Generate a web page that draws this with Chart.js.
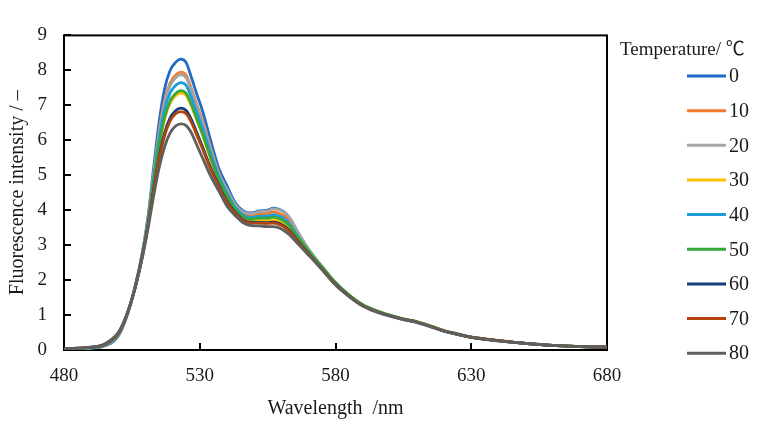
<!DOCTYPE html>
<html>
<head>
<meta charset="utf-8">
<script src="https://cdn.jsdelivr.net/npm/chart.js@4.4.1/dist/chart.umd.min.js"></script>
<style>
  html, body { margin: 0; padding: 0; background: #fff; }
  #chart { display: block; }
</style>
</head>
<body>
<canvas id="chart" width="758" height="421"></canvas>
<script>
// wavelength (nm)
const wavelength = [480, 485, 490, 494, 497, 500, 503, 506, 509, 511, 513, 515, 517, 519, 521, 523, 525, 527, 529, 531, 534, 537, 540, 543, 546, 549, 552, 555, 557, 559, 561, 563, 566, 570, 575, 580, 585, 590, 595, 600, 605, 610, 613, 616, 620, 625, 630, 640, 650, 660, 670, 680];

const temps = ["0", "10", "20", "30", "40", "50", "60", "70", "80"];
const colors = ["#1F6BC8", "#F47A2E", "#A5A5A5", "#FFC000", "#1E9CDB", "#36A93A", "#123D7A", "#B3440D", "#5F5F5F"];

const t0  = [0.02, 0.03, 0.05, 0.09, 0.18, 0.4, 0.93, 1.75, 2.85, 3.85, 5.2, 6.5, 7.45, 7.98, 8.22, 8.32, 8.22, 7.78, 7.3, 6.85, 6.0, 5.2, 4.7, 4.22, 3.98, 3.92, 3.98, 4.0, 4.06, 4.03, 3.95, 3.78, 3.38, 2.88, 2.38, 1.92, 1.56, 1.29, 1.12, 0.99, 0.88, 0.79, 0.72, 0.65, 0.55, 0.46, 0.37, 0.27, 0.19, 0.13, 0.1, 0.08];
const t10 = [0.02, 0.04, 0.06, 0.1, 0.2, 0.43, 0.95, 1.74, 2.82, 3.78, 5.04, 6.24, 7.12, 7.62, 7.86, 7.95, 7.86, 7.46, 7.01, 6.58, 5.8, 5.07, 4.58, 4.15, 3.91, 3.85, 3.89, 3.91, 3.95, 3.92, 3.84, 3.68, 3.31, 2.85, 2.37, 1.91, 1.55, 1.28, 1.11, 0.98, 0.88, 0.8, 0.73, 0.65, 0.54, 0.45, 0.37, 0.27, 0.19, 0.13, 0.1, 0.08];
const t20 = [0.02, 0.04, 0.06, 0.1, 0.21, 0.44, 0.96, 1.75, 2.81, 3.77, 5.01, 6.19, 7.05, 7.55, 7.78, 7.88, 7.79, 7.4, 6.95, 6.53, 5.76, 5.05, 4.6, 4.17, 3.95, 3.9, 3.96, 3.98, 4.04, 4.02, 3.95, 3.8, 3.4, 2.9, 2.4, 1.93, 1.56, 1.29, 1.12, 0.99, 0.89, 0.8, 0.74, 0.66, 0.55, 0.46, 0.37, 0.27, 0.19, 0.13, 0.1, 0.08];
const t30 = [0.02, 0.04, 0.07, 0.12, 0.24, 0.46, 0.97, 1.73, 2.77, 3.67, 4.78, 5.82, 6.59, 7.05, 7.27, 7.35, 7.28, 6.96, 6.55, 6.15, 5.47, 4.86, 4.4, 4.0, 3.76, 3.69, 3.7, 3.7, 3.72, 3.69, 3.61, 3.47, 3.17, 2.78, 2.33, 1.89, 1.54, 1.27, 1.11, 0.98, 0.88, 0.8, 0.73, 0.65, 0.55, 0.45, 0.37, 0.27, 0.19, 0.13, 0.1, 0.08];
const t40 = [0.02, 0.04, 0.06, 0.11, 0.22, 0.45, 0.96, 1.74, 2.8, 3.72, 4.91, 6.03, 6.86, 7.34, 7.56, 7.65, 7.57, 7.21, 6.78, 6.36, 5.63, 4.97, 4.49, 4.09, 3.86, 3.79, 3.83, 3.83, 3.87, 3.84, 3.76, 3.61, 3.26, 2.82, 2.35, 1.9, 1.55, 1.27, 1.1, 0.98, 0.87, 0.79, 0.72, 0.64, 0.54, 0.45, 0.36, 0.26, 0.19, 0.13, 0.1, 0.08];
const t50 = [0.02, 0.04, 0.07, 0.12, 0.23, 0.46, 0.97, 1.74, 2.78, 3.68, 4.81, 5.86, 6.64, 7.11, 7.33, 7.42, 7.34, 7.01, 6.59, 6.19, 5.5, 4.88, 4.42, 4.04, 3.81, 3.74, 3.77, 3.77, 3.8, 3.77, 3.69, 3.55, 3.25, 2.84, 2.38, 1.93, 1.58, 1.3, 1.13, 1.0, 0.89, 0.81, 0.74, 0.66, 0.55, 0.46, 0.37, 0.27, 0.19, 0.13, 0.1, 0.08];
const t60 = [0.03, 0.05, 0.08, 0.13, 0.26, 0.48, 0.98, 1.73, 2.74, 3.58, 4.59, 5.51, 6.2, 6.63, 6.84, 6.92, 6.85, 6.58, 6.2, 5.82, 5.22, 4.71, 4.26, 3.94, 3.72, 3.65, 3.65, 3.64, 3.66, 3.63, 3.55, 3.42, 3.13, 2.76, 2.32, 1.88, 1.54, 1.27, 1.1, 0.98, 0.88, 0.8, 0.73, 0.65, 0.54, 0.45, 0.37, 0.27, 0.19, 0.13, 0.1, 0.08];
const t70 = [0.03, 0.05, 0.08, 0.13, 0.26, 0.49, 0.98, 1.72, 2.73, 3.57, 4.55, 5.45, 6.11, 6.54, 6.75, 6.82, 6.76, 6.5, 6.13, 5.76, 5.17, 4.67, 4.23, 3.92, 3.7, 3.63, 3.63, 3.62, 3.63, 3.6, 3.52, 3.39, 3.11, 2.75, 2.31, 1.87, 1.54, 1.27, 1.1, 0.98, 0.88, 0.8, 0.73, 0.65, 0.55, 0.45, 0.37, 0.27, 0.19, 0.13, 0.1, 0.08];
const t80 = [0.03, 0.05, 0.08, 0.14, 0.27, 0.5, 0.98, 1.72, 2.7, 3.5, 4.4, 5.2, 5.8, 6.2, 6.4, 6.47, 6.42, 6.2, 5.85, 5.5, 4.98, 4.55, 4.12, 3.85, 3.64, 3.56, 3.55, 3.53, 3.53, 3.5, 3.42, 3.3, 3.05, 2.72, 2.3, 1.86, 1.53, 1.26, 1.09, 0.97, 0.87, 0.79, 0.72, 0.64, 0.54, 0.45, 0.36, 0.26, 0.19, 0.13, 0.1, 0.08];

const series = [t0, t10, t20, t30, t40, t50, t60, t70, t80];

const SERIF = '"Liberation Serif", "Times New Roman", "Noto Sans CJK JP", serif';

// frame around the plot area
const frame = {
  id: "frame",
  beforeDatasetsDraw(chart) {
    const { ctx, chartArea: a } = chart;
    ctx.save();
    ctx.strokeStyle = "#000";
    ctx.lineWidth = 2;
    ctx.strokeRect(a.left, a.top, a.right - a.left, a.bottom - a.top);
    ctx.restore();
  }
};

// legend drawn at the right, like the original
const sideLegend = {
  id: "sideLegend",
  afterDraw(chart) {
    const { ctx } = chart;
    ctx.save();
    ctx.fillStyle = "#1a1a1a";
    ctx.textBaseline = "middle";
    ctx.font = "19px " + SERIF;
    ctx.fillText("Temperature/ ℃", 620, 50);
    ctx.font = "20px " + SERIF;
    chart.data.datasets.forEach((ds, i) => {
      const y = 76 + i * 34.65;
      ctx.strokeStyle = ds.borderColor;
      ctx.lineWidth = 3;
      ctx.beginPath();
      ctx.moveTo(687, y);
      ctx.lineTo(726, y);
      ctx.stroke();
      ctx.fillText(ds.label, 729, y + 1);
    });
    ctx.restore();
  }
};

const datasets = series.map((vals, i) => ({
  label: temps[i],
  data: wavelength.map((w, k) => ({ x: w, y: vals[k] })),
  borderColor: colors[i],
  borderWidth: 2.8,
  pointRadius: 0,
  cubicInterpolationMode: "monotone",
  order: series.length - i
}));

const tickFont = { family: SERIF, size: 19 };

new Chart(document.getElementById("chart").getContext("2d"), {
  type: "line",
  data: { datasets },
  options: {
    responsive: false,
    animation: false,
    devicePixelRatio: 1,
    layout: { padding: { top: 12, right: 151, left: 0, bottom: 0 } },
    plugins: { legend: { display: false }, tooltip: { enabled: false } },
    scales: {
      x: {
        type: "linear",
        min: 480,
        max: 680,
        ticks: { stepSize: 50, color: "#1a1a1a", font: tickFont, padding: 22, maxRotation: 0 },
        grid: { drawOnChartArea: false, drawTicks: true, tickLength: -7, color: "#000", lineWidth: 2 },
        border: { display: false },
        title: { display: true, text: "Wavelength  /nm", color: "#1a1a1a", font: { family: SERIF, size: 20 }, padding: { top: 6, bottom: 0 } },
        afterFit: (s) => { s.height = 71; }
      },
      y: {
        min: 0,
        max: 9,
        ticks: { stepSize: 1, color: "#1a1a1a", font: tickFont, padding: 24 },
        grid: { drawOnChartArea: false, drawTicks: true, tickLength: -7, color: "#000", lineWidth: 2 },
        border: { display: false },
        title: { display: true, text: "Fluorescence intensity / –", color: "#1a1a1a", font: { family: SERIF, size: 20 }, padding: { top: 6, bottom: 0 } },
        afterFit: (s) => { s.width = 64; }
      }
    }
  },
  plugins: [frame, sideLegend]
});
</script>
</body>
</html>
